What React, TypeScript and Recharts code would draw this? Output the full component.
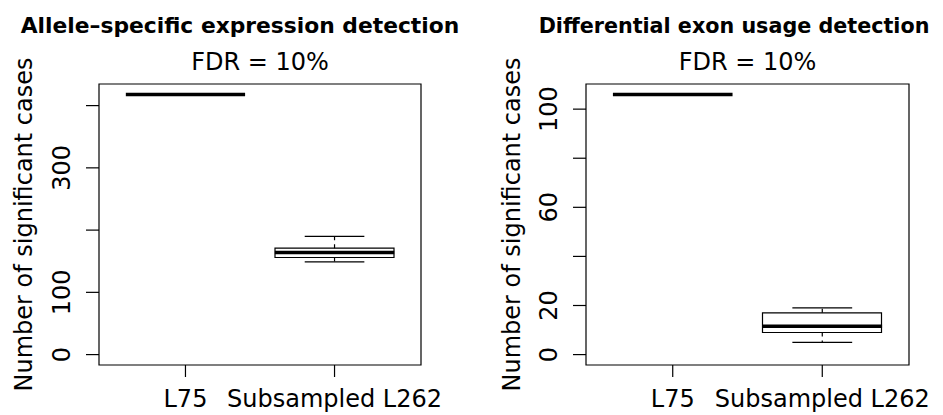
import { ComposedChart, Bar, XAxis, YAxis, ReferenceLine, ReferenceArea } from "recharts"

const GROUPS = ["L75", "Subsampled L262"]
const GROUP_POS = [1, 2]

// allele-specific expression, FDR 10%
const ASE_LOW = [418, 149]
const ASE_Q1 = [418, 156]
const ASE_MEDIAN = [418, 164]
const ASE_Q3 = [418, 171]
const ASE_HIGH = [418, 190]
const ASE_TICKS = [0, 100, 200, 300, 400]
const ASE_TICK_LABELS = [0, 100, 300]

// differential exon usage, FDR 10%
const DEU_LOW = [106, 5]
const DEU_Q1 = [106, 9]
const DEU_MEDIAN = [106, 11.5]
const DEU_Q3 = [106, 17]
const DEU_HIGH = [106, 19]
const DEU_TICKS = [0, 20, 40, 60, 80, 100]
const DEU_TICK_LABELS = [0, 20, 60, 100]

const FONT = "'DejaVu Sans', sans-serif"
const FS = 24
const BOX_HALF = 0.4
const CAP_HALF = 0.2
const X_DOMAIN: [number, number] = [0.42, 2.58]

// R-style 4% padding around [0, max]
function padDomain(max: number): [number, number] {
  const span = max
  return [-0.04 * span, max + 0.04 * span]
}

type Stats = {
  low: number[]
  q1: number[]
  median: number[]
  q3: number[]
  high: number[]
}

function YTick(props: any) {
  const { x, y, payload, shown } = props
  if (!shown.includes(payload.value)) return <g />
  return (
    <text
      x={x}
      y={y}
      transform={`rotate(-90 ${x} ${y})`}
      textAnchor="middle"
      fontSize={FS}
      fontFamily={FONT}
      fill="#000"
    >
      {payload.value}
    </text>
  )
}

function XTick(props: any) {
  const { x, y, payload } = props
  const label = GROUPS[GROUP_POS.indexOf(payload.value)]
  return (
    <text x={x} y={y} textAnchor="middle" fontSize={FS} fontFamily={FONT} fill="#000">
      {label}
    </text>
  )
}

type PanelProps = {
  title: string
  titleX: number
  titleSize: number
  stats: Stats
  ticks: number[]
  tickLabels: number[]
  width: number
  left: number
  right: number
  yTitleX: number
}

function Panel({ title, titleX, titleSize, stats, ticks, tickLabels, width, left, right, yTitleX }: PanelProps) {
  const height = 415
  const top = 84
  const plotBottom = 365
  const yDomain = padDomain(Math.max(...stats.high))
  const data = GROUP_POS.map((pos, i) => ({
    pos,
    box: [stats.q1[i], stats.q3[i]],
  }))
  const plotCenter = left + 60 + (width - left - 60 - right) / 2
  const midY = top + (plotBottom - top) / 2

  return (
    <ComposedChart
      width={width}
      height={height}
      data={data}
      margin={{ top, right, bottom: 0, left }}
    >
      <XAxis
        dataKey="pos"
        type="number"
        domain={X_DOMAIN}
        ticks={GROUP_POS}
        axisLine={false}
        tickSize={12}
        tickMargin={30}
        tickLine={{ stroke: "#000", strokeWidth: 1.2 }}
        tick={<XTick />}
        height={height - plotBottom}
        allowDataOverflow
      />
      <YAxis
        type="number"
        domain={yDomain}
        ticks={ticks}
        axisLine={false}
        tickSize={13}
        tickMargin={16}
        tickLine={{ stroke: "#000", strokeWidth: 1.2 }}
        tick={(p: any) => <YTick {...p} shown={tickLabels} />}
        width={60}
        allowDataOverflow
      />
      <ReferenceArea
        x1={X_DOMAIN[0]}
        x2={X_DOMAIN[1]}
        y1={yDomain[0]}
        y2={yDomain[1]}
        fill="none"
        stroke="#000"
        strokeWidth={1.2}
        ifOverflow="visible"
      />
      <Bar
        dataKey="box"
        barSize={119}
        fill="#fff"
        stroke="#000"
        strokeWidth={1.2}
        isAnimationActive={false}
      />
      {GROUP_POS.map((pos, i) => (
        <ReferenceLine
          key={`wu${i}`}
          segment={[{ x: pos, y: stats.q3[i] }, { x: pos, y: stats.high[i] }]}
          stroke="#000"
          strokeWidth={1.2}
          strokeDasharray="4 4"
        />
      ))}
      {GROUP_POS.map((pos, i) => (
        <ReferenceLine
          key={`wl${i}`}
          segment={[{ x: pos, y: stats.q1[i] }, { x: pos, y: stats.low[i] }]}
          stroke="#000"
          strokeWidth={1.2}
          strokeDasharray="4 4"
        />
      ))}
      {GROUP_POS.map((pos, i) => (
        <ReferenceLine
          key={`cu${i}`}
          segment={[{ x: pos - CAP_HALF, y: stats.high[i] }, { x: pos + CAP_HALF, y: stats.high[i] }]}
          stroke="#000"
          strokeWidth={1.2}
        />
      ))}
      {GROUP_POS.map((pos, i) => (
        <ReferenceLine
          key={`cl${i}`}
          segment={[{ x: pos - CAP_HALF, y: stats.low[i] }, { x: pos + CAP_HALF, y: stats.low[i] }]}
          stroke="#000"
          strokeWidth={1.2}
        />
      ))}
      {GROUP_POS.map((pos, i) => (
        <ReferenceLine
          key={`m${i}`}
          segment={[{ x: pos - BOX_HALF, y: stats.median[i] }, { x: pos + BOX_HALF, y: stats.median[i] }]}
          stroke="#000"
          strokeWidth={3.5}
        />
      ))}
      <text x={titleX} y={33} textAnchor="middle" fontSize={titleSize} fontWeight="bold" fontFamily={FONT} fill="#000">
        {title}
      </text>
      <text x={plotCenter} y={70} textAnchor="middle" fontSize={FS} fontFamily={FONT} fill="#000">
        FDR = 10%
      </text>
      <text
        x={yTitleX}
        y={midY}
        transform={`rotate(-90 ${yTitleX} ${midY})`}
        textAnchor="middle"
        fontSize={FS}
        fontFamily={FONT}
        fill="#000"
      >
        Number of significant cases
      </text>
    </ComposedChart>
  )
}

export default function App() {
  return (
    <div style={{ position: "absolute", left: 0, top: 0, width: 943, height: 415, display: "flex", background: "#fff" }}>
      <Panel
        title="Allele–specific expression detection"
        titleX={240}
        titleSize={21.8}
        stats={{ low: ASE_LOW, q1: ASE_Q1, median: ASE_MEDIAN, q3: ASE_Q3, high: ASE_HIGH }}
        ticks={ASE_TICKS}
        tickLabels={ASE_TICK_LABELS}
        width={470}
        left={39}
        right={49}
        yTitleX={32}
      />
      <Panel
        title="Differential exon usage detection"
        titleX={264}
        titleSize={20.7}
        stats={{ low: DEU_LOW, q1: DEU_Q1, median: DEU_MEDIAN, q3: DEU_Q3, high: DEU_HIGH }}
        ticks={DEU_TICKS}
        tickLabels={DEU_TICK_LABELS}
        width={473}
        left={56}
        right={34}
        yTitleX={50}
      />
    </div>
  )
}
